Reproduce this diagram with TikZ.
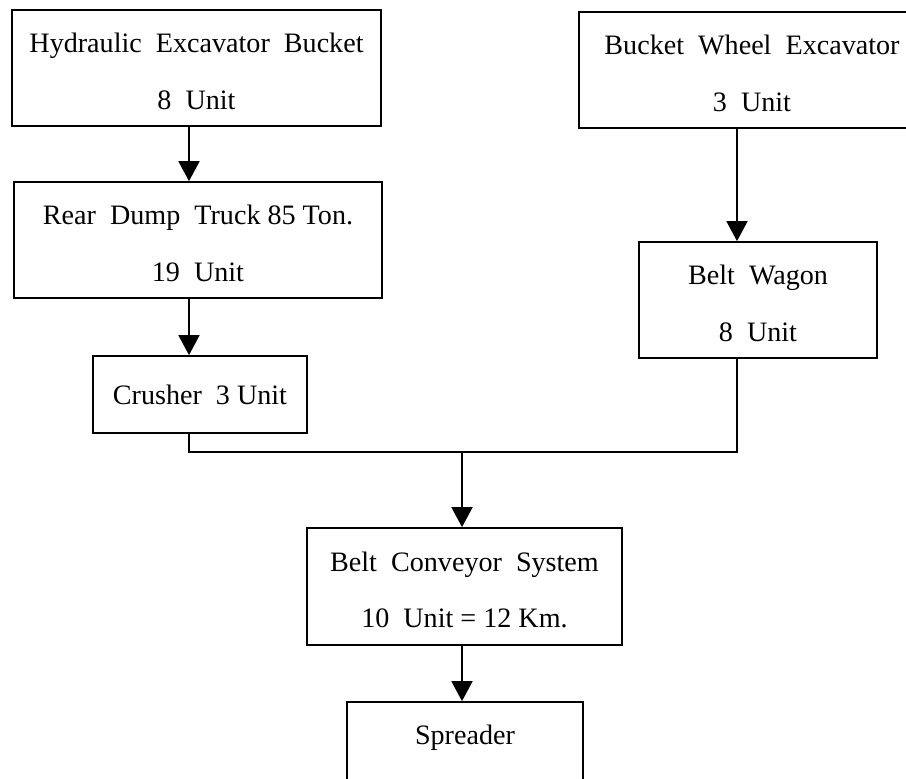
\documentclass[tikz,border=0pt]{standalone}
\usepackage{fontspec}
\setmainfont{Liberation Serif}
\usetikzlibrary{arrows.meta}
\newcommand{\wsp}{\hspace{0.5em}}
\newcommand{\tallrow}{\rule{0pt}{15pt}}
\tikzset{
  unitbox/.style={draw, line width=1pt, align=center, inner sep=0pt, font=\fontsize{16}{19}\selectfont},
  flow/.style={line width=1pt, -{Triangle[length=0.4cm,width=0.42cm]}},
  link/.style={line width=1pt}
}

\begin{document}
\begin{tikzpicture}[x=0.02cm, y=-0.02cm]
\useasboundingbox (0,0) rectangle (906,778);
\clip (0,0) rectangle (906,778);
\node[unitbox, minimum width=7.38cm, minimum height=2.32cm] (hyd) at (196.5,68) {\tallrow Hydraulic\wsp Excavator\wsp Bucket\\[13pt] 8\wsp Unit};
\node[unitbox, minimum width=6.92cm, minimum height=2.32cm] (bwe) at (752,70) {\tallrow Bucket\wsp Wheel\wsp Excavator\\[13pt] 3\wsp Unit};
\node[unitbox, minimum width=7.36cm, minimum height=2.32cm] (truck) at (198,240) {\tallrow Rear\wsp Dump\wsp Truck 85 Ton.\\[13pt] 19\wsp Unit};
\node[unitbox, minimum width=4.76cm, minimum height=2.32cm] (wagon) at (758,300) {\tallrow Belt\wsp Wagon\\[13pt] 8\wsp Unit};
\node[unitbox, minimum width=4.28cm, minimum height=1.54cm] (crusher) at (200,394.5) {Crusher\wsp 3 Unit};
\node[unitbox, minimum width=6.3cm, minimum height=2.34cm] (conveyor) at (464.5,586.5) {\tallrow Belt\wsp Conveyor\wsp System\\[13pt] 10\wsp Unit = 12 Km.};
\node[unitbox, minimum width=4.72cm, minimum height=2.32cm] (spreader) at (465,760) {Spreader\\[4pt]\strut};
% columns of the connectors
\coordinate (colL) at (189,0);
\coordinate (colR) at (737,0);
\coordinate (join) at (462,452);
\draw[flow] (hyd.south -| colL) -- (truck.north -| colL);
\draw[flow] (truck.south -| colL) -- (crusher.north -| colL);
\draw[flow] (bwe.south -| colR) -- (wagon.north -| colR);
\draw[link] (crusher.south -| colL) |- (join);
\draw[link] (wagon.south -| colR) |- (join);
\draw[flow] (join) -- (conveyor.north -| join);
\draw[flow] (conveyor.south -| join) -- (spreader.north -| join);
\end{tikzpicture}
\end{document}
